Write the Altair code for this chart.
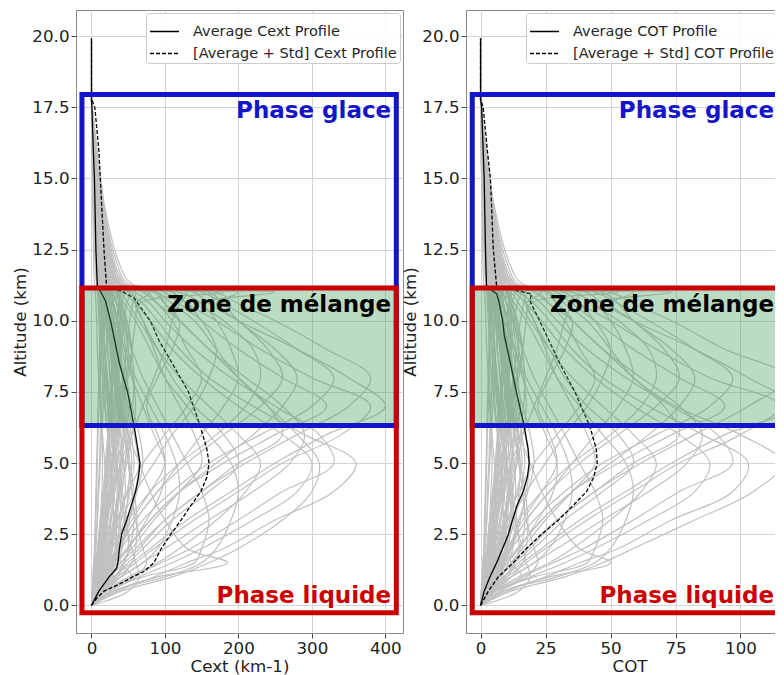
import altair as alt
import pandas as pd

# ---------------- data ----------------
ALT_LEVELS = [0, 0.5, 1, 1.5, 2, 3, 4, 5, 6, 7, 8, 9, 10, 10.6, 11.0, 11.3, 12, 13.5, 15.5, 17.8]

CEXT_PROFILES = [
    [0, 2, 5, 7, 9, 12, 14, 15, 14, 12, 10, 8, 7, 6, 5, 4, 3, 2, 1, 0],
    [0, 5, 10, 14, 17, 20, 22, 24, 22, 18, 15, 12, 10, 9, 8, 7, 6, 4, 2, 0],
    [0, 3, 8, 12, 16, 22, 28, 32, 30, 26, 22, 18, 15, 12, 10, 12, 10, 7, 3, 0],
    [0, 8, 18, 24, 28, 32, 35, 33, 28, 22, 18, 15, 12, 10, 14, 18, 14, 9, 4, 0],
    [0, 12, 25, 32, 36, 40, 38, 34, 30, 28, 25, 22, 20, 18, 16, 20, 16, 11, 5, 0],
    [0, 4, 9, 14, 18, 25, 32, 40, 45, 42, 36, 30, 24, 20, 30, 26, 20, 14, 7, 0],
    [0, 15, 35, 45, 50, 48, 42, 38, 35, 30, 28, 26, 22, 18, 15, 12, 8, 5, 2, 0],
    [0, 6, 14, 20, 26, 36, 48, 55, 50, 42, 35, 28, 22, 18, 15, 14, 11, 8, 3, 0],
    [0, 20, 55, 40, 35, 30, 28, 26, 24, 22, 20, 18, 16, 14, 12, 10, 8, 5, 2, 0],
    [0, 2, 4, 6, 8, 12, 16, 22, 30, 40, 50, 55, 48, 40, 35, 30, 24, 16, 8, 0],
    [0, 10, 22, 30, 38, 50, 62, 70, 65, 55, 45, 38, 30, 25, 20, 22, 17, 12, 5, 0],
    [0, 25, 60, 75, 70, 60, 55, 50, 45, 40, 35, 30, 25, 20, 18, 14, 10, 6, 2, 0],
    [0, 8, 20, 35, 50, 75, 95, 100, 85, 70, 55, 45, 35, 30, 25, 24, 18, 13, 6, 0],
    [0, 15, 40, 70, 90, 110, 120, 115, 100, 80, 60, 45, 35, 28, 22, 16, 12, 8, 3, 0],
    [0, 30, 90, 185, 130, 100, 80, 65, 50, 40, 30, 25, 20, 16, 12, 10, 7, 4, 2, 0],
    [0, 20, 70, 140, 150, 160, 150, 130, 110, 90, 70, 55, 42, 35, 28, 20, 14, 9, 3, 0],
    [0, 18, 50, 90, 120, 170, 210, 230, 200, 160, 120, 90, 65, 50, 40, 25, 18, 10, 4, 0],
    [0, 25, 65, 110, 150, 220, 280, 300, 260, 200, 150, 110, 80, 60, 45, 30, 20, 12, 4, 0],
    [0, 35, 85, 130, 180, 250, 330, 360, 290, 220, 160, 120, 90, 70, 50, 30, 20, 12, 4, 0],
    [0, 20, 55, 95, 135, 200, 260, 330, 310, 250, 190, 140, 100, 80, 60, 35, 25, 14, 5, 0],
    [0, 15, 40, 70, 100, 160, 220, 270, 290, 260, 210, 160, 120, 90, 70, 40, 25, 14, 5, 0],
    [0, 10, 30, 55, 80, 130, 190, 250, 320, 400, 350, 280, 200, 160, 140, 40, 28, 15, 5, 0],
    [0, 8, 22, 40, 60, 100, 150, 210, 280, 350, 380, 320, 250, 200, 170, 45, 30, 18, 6, 0],
    [0, 12, 35, 60, 85, 140, 200, 260, 340, 380, 300, 230, 170, 130, 110, 35, 25, 14, 5, 0],
    [0, 5, 15, 28, 40, 70, 110, 160, 230, 300, 330, 280, 220, 180, 150, 40, 28, 16, 5, 0],
    [0, 6, 18, 32, 48, 80, 120, 180, 250, 320, 260, 200, 150, 120, 100, 30, 22, 12, 4, 0],
    [0, 10, 25, 45, 65, 100, 150, 200, 260, 240, 200, 160, 120, 100, 90, 28, 20, 12, 4, 0],
    [0, 4, 12, 22, 35, 60, 90, 130, 180, 230, 260, 240, 200, 170, 200, 50, 35, 20, 6, 0],
    [0, 3, 10, 18, 28, 50, 80, 120, 170, 210, 230, 220, 180, 150, 250, 55, 38, 22, 8, 0],
    [0, 8, 20, 35, 50, 80, 120, 170, 220, 260, 280, 250, 200, 180, 160, 40, 28, 16, 5, 0],
    [0, 5, 14, 25, 38, 60, 90, 120, 150, 180, 200, 190, 170, 150, 120, 35, 25, 14, 5, 0],
    [0, 3, 8, 15, 22, 40, 60, 85, 110, 140, 160, 170, 150, 130, 110, 30, 22, 12, 4, 0],
    [0, 10, 25, 40, 55, 85, 120, 150, 140, 120, 100, 85, 70, 60, 55, 20, 15, 9, 3, 0],
    [0, 12, 30, 50, 70, 110, 160, 200, 180, 140, 110, 90, 70, 60, 80, 25, 18, 10, 4, 0],
    [0, 4, 10, 16, 22, 35, 50, 70, 100, 130, 150, 130, 110, 90, 75, 22, 16, 10, 3, 0],
    [0, 7, 16, 25, 35, 55, 80, 100, 90, 75, 90, 110, 120, 100, 85, 25, 18, 10, 4, 0],
    [0, 2, 6, 10, 14, 22, 30, 40, 55, 70, 85, 100, 110, 120, 130, 38, 26, 15, 5, 0],
    [0, 6, 12, 18, 24, 30, 36, 42, 40, 36, 32, 28, 24, 20, 17, 13, 10, 6, 2, 0],
    [0, 9, 20, 28, 34, 44, 52, 58, 54, 48, 42, 36, 30, 26, 22, 16, 12, 8, 3, 0],
    [0, 3, 7, 11, 15, 18, 20, 22, 26, 30, 34, 38, 40, 34, 28, 20, 15, 9, 3, 0],
    [0, 50, 65, 60, 55, 45, 40, 35, 30, 25, 20, 18, 15, 12, 10, 8, 6, 4, 2, 0],
    [0, 30, 100, 150, 170, 190, 200, 190, 160, 130, 100, 80, 60, 45, 35, 22, 16, 10, 3, 0],
    [0, 40, 110, 160, 200, 260, 300, 310, 280, 240, 200, 170, 140, 110, 90, 30, 22, 12, 4, 0],
    [0, 4, 8, 12, 16, 20, 24, 28, 34, 40, 48, 55, 60, 65, 180, 45, 30, 18, 6, 0],
    [0, 1, 3, 4, 5, 6, 7, 8, 9, 10, 11, 12, 13, 14, 16, 18, 16, 12, 6, 0],
    [0, 2, 5, 8, 11, 16, 20, 18, 15, 13, 12, 14, 16, 15, 13, 11, 9, 6, 3, 0],
    [0, 4, 6, 9, 12, 14, 17, 20, 24, 28, 26, 22, 19, 16, 14, 9, 7, 4, 1, 0],
    [0, 7, 15, 22, 28, 34, 30, 26, 22, 19, 17, 15, 13, 11, 9, 7, 5, 3, 1, 0],
    [0, 1, 2, 3, 5, 8, 10, 12, 14, 16, 18, 20, 24, 28, 36, 30, 24, 16, 8, 0],
    [0, 3, 6, 10, 13, 17, 24, 30, 36, 34, 30, 26, 34, 40, 45, 35, 28, 20, 10, 0],
    [0, 1, 2, 3, 4, 5, 6, 7, 8, 9, 10, 11, 12, 13, 14, 12, 10, 7, 3, 0],
    [0, 3, 6, 9, 12, 15, 18, 21, 24, 22, 20, 18, 16, 14, 12, 10, 8, 5, 2, 0],
    [0, 6, 12, 16, 19, 22, 26, 30, 27, 24, 21, 18, 15, 13, 11, 9, 7, 5, 2, 0],
    [0, 2, 4, 7, 10, 15, 21, 27, 33, 38, 42, 40, 35, 30, 26, 20, 15, 10, 4, 0],
    [0, 9, 18, 26, 32, 40, 46, 44, 40, 36, 32, 28, 25, 22, 20, 16, 12, 8, 3, 0],
    [0, 14, 28, 36, 42, 46, 50, 52, 48, 44, 38, 34, 30, 26, 24, 20, 15, 10, 4, 0],
    [0, 5, 10, 13, 15, 18, 21, 24, 28, 32, 36, 40, 44, 48, 52, 40, 30, 18, 7, 0],
    [0, 11, 20, 25, 29, 33, 37, 40, 43, 40, 36, 32, 28, 24, 20, 15, 12, 8, 3, 0],
    [0, 4, 9, 15, 21, 30, 38, 45, 52, 56, 58, 54, 48, 42, 38, 28, 20, 12, 5, 0],
    [0, 7, 13, 18, 22, 27, 31, 35, 38, 41, 44, 46, 42, 38, 34, 26, 20, 13, 5, 0],
    [0, 2, 3, 5, 6, 8, 9, 11, 12, 14, 15, 17, 18, 20, 22, 24, 20, 14, 6, 0],
    [0, 16, 32, 44, 52, 58, 55, 50, 44, 38, 32, 27, 22, 18, 15, 12, 9, 6, 2, 0],
    [0, 3, 7, 10, 14, 20, 27, 35, 44, 52, 48, 42, 36, 30, 26, 20, 15, 10, 4, 0],
    [0, 8, 16, 22, 26, 30, 28, 26, 24, 26, 30, 34, 38, 34, 30, 24, 18, 12, 5, 0],
    [0, 1, 3, 5, 8, 12, 18, 25, 32, 38, 44, 48, 52, 56, 60, 45, 32, 20, 8, 0],
    [0, 10, 22, 32, 40, 52, 60, 64, 58, 50, 42, 36, 30, 26, 22, 17, 13, 8, 3, 0],
    [0, 5, 11, 16, 20, 26, 30, 33, 35, 36, 35, 32, 28, 25, 22, 18, 14, 9, 4, 0],
    [0, 2, 5, 8, 12, 18, 24, 30, 36, 42, 47, 50, 46, 40, 34, 26, 20, 13, 5, 0],
    [0, 12, 22, 28, 32, 35, 38, 40, 38, 34, 30, 26, 23, 20, 18, 14, 11, 7, 3, 0],
    [0, 6, 11, 15, 18, 22, 25, 28, 31, 34, 37, 39, 40, 38, 36, 28, 22, 14, 6, 0],
    [0, 18, 40, 55, 60, 62, 58, 52, 46, 40, 34, 29, 25, 21, 18, 14, 10, 6, 2, 0],
    [0, 3, 5, 8, 10, 13, 16, 19, 22, 25, 28, 31, 34, 37, 40, 32, 25, 16, 7, 0],
    [0, 8, 15, 20, 25, 32, 40, 48, 55, 60, 56, 50, 44, 38, 33, 25, 18, 11, 4, 0],
    [0, 4, 8, 11, 14, 17, 19, 21, 23, 25, 27, 29, 31, 30, 28, 22, 17, 11, 5, 0],
    [0, 13, 24, 30, 34, 38, 42, 46, 50, 46, 42, 38, 34, 30, 27, 21, 16, 10, 4, 0],
]

COT_PROFILES = [
    [0, 0.6, 1.5, 2, 2.6, 3.5, 4, 4.4, 4, 3.5, 3, 2.4, 2, 1.8, 1.5, 1.2, 0.9, 0.6, 0.3, 0],
    [0, 1.5, 3, 4, 5, 6, 6.5, 7, 6.5, 5.3, 4.4, 3.5, 3, 2.6, 2.4, 2, 1.8, 1.2, 0.6, 0],
    [0, 0.9, 2.4, 3.5, 4.7, 6.5, 8.2, 9.4, 8.8, 7.6, 6.5, 5.3, 4.4, 3.5, 3, 3.5, 3, 2, 0.9, 0],
    [0, 2.4, 5.3, 7, 8.2, 9.4, 10.3, 9.7, 8.2, 6.5, 5.3, 4.4, 3.5, 3, 4, 5.3, 4, 2.6, 1.2, 0],
    [0, 3.5, 7.4, 9.4, 10.6, 11.8, 11.2, 10, 8.8, 8.2, 7.4, 6.5, 5.9, 5.3, 4.7, 5.9, 4.7, 3.2, 1.5, 0],
    [0, 1.2, 2.6, 4, 5.3, 7.4, 9.4, 11.8, 13.2, 12.4, 10.6, 8.8, 7, 5.9, 8.8, 7.6, 5.9, 4, 2, 0],
    [0, 4.4, 10.3, 13.2, 14.7, 14, 12.4, 11.2, 10.3, 8.8, 8.2, 7.6, 6.5, 5.3, 4.4, 3.5, 2.4, 1.5, 0.6, 0],
    [0, 1.8, 4, 5.9, 7.6, 10.6, 14, 16, 14.7, 12.4, 10.3, 8.2, 6.5, 5.3, 4.4, 4, 3.2, 2.4, 0.9, 0],
    [0, 5.9, 16, 11.8, 10.3, 8.8, 8.2, 7.6, 7, 6.5, 5.9, 5.3, 4.7, 4, 3.5, 3, 2.4, 1.5, 0.6, 0],
    [0, 0.6, 1.2, 1.8, 2.4, 3.5, 4.7, 6.5, 8.8, 11.8, 14.7, 16.2, 14, 11.8, 10.3, 8.8, 7, 4.7, 2.4, 0],
    [0, 3, 6.5, 8.8, 11.2, 14.7, 18.2, 20.6, 19.1, 16.2, 13.2, 11.2, 8.8, 7.4, 5.9, 6.5, 5, 3.5, 1.5, 0],
    [0, 7.4, 17.6, 22, 20.6, 17.6, 16.2, 14.7, 13.2, 11.8, 10.3, 8.8, 7.4, 5.9, 5.3, 4, 3, 1.8, 0.6, 0],
    [0, 2.4, 5.9, 10.3, 14.7, 22, 28, 29.4, 25, 20.6, 16.2, 13.2, 10.3, 8.8, 7.4, 7, 5.3, 3.8, 1.8, 0],
    [0, 4.4, 11.8, 20.6, 26.5, 32.4, 35.3, 33.8, 29.4, 23.5, 17.6, 13.2, 10.3, 8.2, 6.5, 4.7, 3.5, 2.4, 0.9, 0],
    [0, 8.8, 26.5, 50, 38, 29.4, 23.5, 19.1, 14.7, 11.8, 8.8, 7.4, 5.9, 4.7, 3.5, 3, 2, 1.2, 0.6, 0],
    [0, 5.9, 20.6, 41, 44, 47, 44, 38, 32.4, 26.5, 20.6, 16.2, 12.4, 10.3, 8.2, 5.9, 4, 2.6, 0.9, 0],
    [0, 5.3, 14.7, 26.5, 35.3, 50, 61.8, 67.6, 58.8, 47, 35.3, 26.5, 19.1, 14.7, 11.8, 7.4, 5.3, 3, 1.2, 0],
    [0, 7.4, 19.1, 32.4, 44, 64.7, 82.4, 88.2, 76.5, 58.8, 44, 32.4, 23.5, 17.6, 13.2, 8.8, 5.9, 3.5, 1.2, 0],
    [0, 10.3, 25, 38.2, 53, 73.5, 97, 103, 85.3, 64.7, 47, 35.3, 26.5, 20.6, 14.7, 8.8, 5.9, 3.5, 1.2, 0],
    [0, 5.9, 16.2, 28, 39.7, 58.8, 76.5, 97, 91, 73.5, 55.9, 41, 29.4, 23.5, 17.6, 10.3, 7.4, 4, 1.5, 0],
    [0, 4.4, 11.8, 20.6, 29.4, 47, 64.7, 79.4, 85.3, 76.5, 61.8, 47, 35.3, 26.5, 20.6, 11.8, 7.4, 4, 1.5, 0],
    [0, 3, 8.8, 16.2, 23.5, 38.2, 55.9, 73.5, 94, 120, 103, 82.4, 58.8, 47, 41, 11.8, 8.2, 4.4, 1.5, 0],
    [0, 2.4, 6.5, 11.8, 17.6, 29.4, 44, 61.8, 82.4, 103, 118, 94, 73.5, 58.8, 50, 13.2, 8.8, 5.3, 1.8, 0],
    [0, 3.5, 10.3, 17.6, 25, 41, 58.8, 76.5, 100, 115, 88.2, 67.6, 50, 38.2, 32.4, 10.3, 7.4, 4, 1.5, 0],
    [0, 1.5, 4.4, 8.2, 11.8, 20.6, 32.4, 47, 67.6, 88.2, 97, 82.4, 64.7, 53, 44, 11.8, 8.2, 4.7, 1.5, 0],
    [0, 1.8, 5.3, 9.4, 14.1, 23.5, 35.3, 53, 73.5, 94, 76.5, 58.8, 44, 35.3, 29.4, 8.8, 6.5, 3.5, 1.2, 0],
    [0, 3, 7.4, 13.2, 19.1, 29.4, 44, 58.8, 76.5, 70.6, 58.8, 47, 35.3, 29.4, 26.5, 8.2, 5.9, 3.5, 1.2, 0],
    [0, 1.2, 3.5, 6.5, 10.3, 17.6, 26.5, 38.2, 53, 67.6, 76.5, 70.6, 58.8, 50, 58.8, 14.7, 10.3, 5.9, 1.8, 0],
    [0, 0.9, 3, 5.3, 8.2, 14.7, 23.5, 35.3, 50, 61.8, 67.6, 64.7, 53, 44, 73.5, 16.2, 11.2, 6.5, 2.4, 0],
    [0, 2.4, 5.9, 10.3, 14.7, 23.5, 35.3, 50, 64.7, 76.5, 82.4, 73.5, 58.8, 53, 47, 11.8, 8.2, 4.7, 1.5, 0],
    [0, 1.5, 4.1, 7.4, 11.2, 17.6, 26.5, 35.3, 44, 53, 58.8, 55.9, 50, 44, 35.3, 10.3, 7.4, 4.1, 1.5, 0],
    [0, 0.9, 2.4, 4.4, 6.5, 11.8, 17.6, 25, 32.4, 41, 47, 50, 44, 38.2, 32.4, 8.8, 6.5, 3.5, 1.2, 0],
    [0, 3, 7.4, 11.8, 16.2, 25, 35.3, 44, 41, 35.3, 29.4, 25, 20.6, 17.6, 16.2, 5.9, 4.4, 2.6, 0.9, 0],
    [0, 3.5, 8.8, 14.7, 20.6, 32.4, 47, 58.8, 53, 41, 32.4, 26.5, 20.6, 17.6, 23.5, 7.4, 5.3, 3, 1.2, 0],
    [0, 1.2, 3, 4.7, 6.5, 10.3, 14.7, 20.6, 29.4, 38.2, 44, 38.2, 32.4, 26.5, 22, 6.5, 4.7, 3, 0.9, 0],
    [0, 2, 4.7, 7.4, 10.3, 16.2, 23.5, 29.4, 26.5, 22, 26.5, 32.4, 35.3, 29.4, 25, 7.4, 5.3, 3, 1.2, 0],
    [0, 0.6, 1.8, 3, 4.1, 6.5, 8.8, 11.8, 16.2, 20.6, 25, 29.4, 32.4, 35.3, 38.2, 11.2, 7.6, 4.4, 1.5, 0],
    [0, 1.8, 3.5, 5.3, 7, 8.8, 10.6, 12.4, 11.8, 10.6, 9.4, 8.2, 7, 5.9, 5, 3.8, 3, 1.8, 0.6, 0],
    [0, 2.6, 5.9, 8.2, 10, 13, 15.3, 17, 15.9, 14.1, 12.4, 10.6, 8.8, 7.6, 6.5, 4.7, 3.5, 2.4, 0.9, 0],
    [0, 0.9, 2, 3.2, 4.4, 5.3, 5.9, 6.5, 7.6, 8.8, 10, 11.2, 11.8, 10, 8.2, 5.9, 4.4, 2.6, 0.9, 0],
    [0, 14.7, 19.1, 17.6, 16.2, 13.2, 11.8, 10.3, 8.8, 7.4, 5.9, 5.3, 4.4, 3.5, 3, 2.4, 1.8, 1.2, 0.6, 0],
    [0, 8.8, 29.4, 44, 50, 55.9, 58.8, 55.9, 47, 38.2, 29.4, 23.5, 17.6, 13.2, 10.3, 6.5, 4.7, 3, 0.9, 0],
    [0, 11.8, 32.4, 47, 58.8, 82.4, 105, 116, 100, 75, 58.8, 50, 41, 32.4, 26.5, 8.8, 6.5, 3.5, 1.2, 0],
    [0, 1.2, 2.4, 3.5, 4.7, 5.9, 7, 8.2, 10, 11.8, 14.1, 16.2, 17.6, 19.1, 53, 13.2, 8.8, 5.3, 1.8, 0],
    [0, 0.3, 0.9, 1.2, 1.5, 1.8, 2, 2.4, 2.6, 3, 3.2, 3.5, 3.8, 4.1, 4.7, 5.3, 4.7, 3.5, 1.8, 0],
    [0, 0.6, 1.5, 2.4, 3.2, 4.7, 5.9, 5.3, 4.4, 3.8, 3.5, 4.1, 4.7, 4.4, 3.8, 3.2, 2.6, 1.8, 0.9, 0],
    [0, 1.2, 1.8, 2.6, 3.5, 4.1, 5, 5.9, 7, 8.2, 7.6, 6.5, 5.6, 4.7, 4.1, 2.6, 2, 1.2, 0.3, 0],
    [0, 2, 4.4, 6.5, 8.2, 10, 8.8, 7.6, 6.5, 5.6, 5, 4.4, 3.8, 3.2, 2.6, 2, 1.5, 0.9, 0.3, 0],
    [0, 0.3, 0.6, 0.9, 1.5, 2.4, 3, 3.5, 4.1, 4.7, 5.3, 5.9, 7, 8.2, 10.6, 8.8, 7, 4.7, 2.4, 0],
    [0, 0.9, 1.8, 3, 3.8, 5, 7, 8.8, 10.6, 10, 8.8, 7.6, 10, 11.8, 13.2, 10.3, 8.2, 5.9, 2.9, 0],
    [0, 0.3, 0.6, 0.9, 1.2, 1.5, 1.8, 2.1, 2.4, 2.6, 2.9, 3.2, 3.5, 3.8, 4.1, 3.5, 2.9, 2.1, 0.9, 0],
    [0, 0.9, 1.8, 2.6, 3.5, 4.4, 5.3, 6.2, 7, 6.5, 5.9, 5.3, 4.7, 4.1, 3.5, 2.9, 2.4, 1.5, 0.6, 0],
    [0, 1.8, 3.5, 4.7, 5.6, 6.5, 7.6, 8.8, 7.9, 7, 6.2, 5.3, 4.4, 3.8, 3.2, 2.6, 2.1, 1.5, 0.6, 0],
    [0, 0.6, 1.2, 2.1, 2.9, 4.4, 6.2, 7.9, 9.7, 11.2, 12.4, 11.8, 10.3, 8.8, 7.6, 5.9, 4.4, 2.9, 1.2, 0],
    [0, 2.6, 5.3, 7.6, 9.4, 11.8, 13.5, 12.9, 11.8, 10.6, 9.4, 8.2, 7.4, 6.5, 5.9, 4.7, 3.5, 2.4, 0.9, 0],
    [0, 4.1, 8.2, 10.6, 12.4, 13.5, 14.7, 15.3, 14.1, 12.9, 11.2, 10, 8.8, 7.6, 7, 5.9, 4.4, 2.9, 1.2, 0],
    [0, 1.5, 2.9, 3.8, 4.4, 5.3, 6.2, 7, 8.2, 9.4, 10.6, 11.8, 12.9, 14.1, 15.3, 11.8, 8.8, 5.3, 2.1, 0],
    [0, 3.2, 5.9, 7.4, 8.5, 9.7, 10.9, 11.8, 12.6, 11.8, 10.6, 9.4, 8.2, 7, 5.9, 4.4, 3.5, 2.4, 0.9, 0],
    [0, 1.2, 2.6, 4.4, 6.2, 8.8, 11.2, 13.2, 15.3, 16.5, 17.1, 15.9, 14.1, 12.4, 11.2, 8.2, 5.9, 3.5, 1.5, 0],
    [0, 2.1, 3.8, 5.3, 6.5, 7.9, 9.1, 10.3, 11.2, 12.1, 12.9, 13.5, 12.4, 11.2, 10, 7.6, 5.9, 3.8, 1.5, 0],
    [0, 0.6, 0.9, 1.5, 1.8, 2.4, 2.6, 3.2, 3.5, 4.1, 4.4, 5, 5.3, 5.9, 6.5, 7, 5.9, 4.1, 1.8, 0],
    [0, 4.7, 9.4, 12.9, 15.3, 17.1, 16.2, 14.7, 12.9, 11.2, 9.4, 7.9, 6.5, 5.3, 4.4, 3.5, 2.6, 1.8, 0.6, 0],
    [0, 0.9, 2.1, 2.9, 4.1, 5.9, 7.9, 10.3, 12.9, 15.3, 14.1, 12.4, 10.6, 8.8, 7.6, 5.9, 4.4, 2.9, 1.2, 0],
    [0, 2.4, 4.7, 6.5, 7.6, 8.8, 8.2, 7.6, 7, 7.6, 8.8, 10, 11.2, 10, 8.8, 7, 5.3, 3.5, 1.5, 0],
    [0, 0.3, 0.9, 1.5, 2.4, 3.5, 5.3, 7.4, 9.4, 11.2, 12.9, 14.1, 15.3, 16.5, 17.6, 13.2, 9.4, 5.9, 2.4, 0],
    [0, 2.9, 6.5, 9.4, 11.8, 15.3, 17.6, 18.8, 17.1, 14.7, 12.4, 10.6, 8.8, 7.6, 6.5, 5, 3.8, 2.4, 0.9, 0],
    [0, 1.5, 3.2, 4.7, 5.9, 7.6, 8.8, 9.7, 10.3, 10.6, 10.3, 9.4, 8.2, 7.4, 6.5, 5.3, 4.1, 2.6, 1.2, 0],
    [0, 0.6, 1.5, 2.4, 3.5, 5.3, 7, 8.8, 10.6, 12.4, 13.8, 14.7, 13.5, 11.8, 10, 7.6, 5.9, 3.8, 1.5, 0],
    [0, 3.5, 6.5, 8.2, 9.4, 10.3, 11.2, 11.8, 11.2, 10, 8.8, 7.6, 6.8, 5.9, 5.3, 4.1, 3.2, 2.1, 0.9, 0],
    [0, 1.8, 3.2, 4.4, 5.3, 6.5, 7.4, 8.2, 9.1, 10, 10.9, 11.5, 11.8, 11.2, 10.6, 8.2, 6.5, 4.1, 1.8, 0],
    [0, 5.3, 11.8, 16.2, 17.6, 18.2, 17.1, 15.3, 13.5, 11.8, 10, 8.5, 7.4, 6.2, 5.3, 4.1, 2.9, 1.8, 0.6, 0],
    [0, 0.9, 1.5, 2.4, 2.9, 3.8, 4.7, 5.6, 6.5, 7.4, 8.2, 9.1, 10, 10.9, 11.8, 9.4, 7.4, 4.7, 2.1, 0],
    [0, 2.4, 4.4, 5.9, 7.4, 9.4, 11.8, 14.1, 16.2, 17.6, 16.5, 14.7, 12.9, 11.2, 9.7, 7.4, 5.3, 3.2, 1.2, 0],
    [0, 1.2, 2.4, 3.2, 4.1, 5, 5.6, 6.2, 6.8, 7.4, 7.9, 8.5, 9.1, 8.8, 8.2, 6.5, 5, 3.2, 1.5, 0],
    [0, 3.8, 7, 8.8, 10, 11.2, 12.4, 13.5, 14.7, 13.5, 12.4, 11.2, 10, 8.8, 7.9, 6.2, 4.7, 2.9, 1.2, 0],
]

CEXT_MEAN_ALT = [0, 0.5, 1.0, 1.3, 1.5, 2, 2.5, 3, 3.5, 4, 4.5, 5, 5.5, 6.3, 7.5, 8.5, 9.5, 10, 10.7, 11.0, 11.2, 12.5, 15, 16, 17.5, 17.8, 19.93]
CEXT_MEAN = [0, 10, 24, 34, 36, 38, 41, 48, 54, 60, 64, 66, 63, 58, 49, 38, 30, 26, 19, 13, 8, 6, 4, 2.5, 0.5, 0, 0]
CEXT_STD_ALT = [0, 0.25, 0.5, 0.75, 1.0, 1.2, 1.5, 2, 2.5, 3, 3.5, 4, 4.5, 5, 5.5, 6.3, 7.5, 8.5, 9.3, 10, 10.8, 11.05, 11.2, 12.5, 14, 15, 16, 17.5, 17.8, 19.93]
CEXT_MEAN_STD = [0, 7, 17, 38, 56, 72, 85, 95, 108, 122, 135, 149, 157, 160, 157, 148, 132, 110, 92, 80, 58, 40, 20.5, 17, 14, 12, 10, 4.5, 0, 0]

COT_MEAN_ALT = [0, 0.5, 1, 1.5, 2, 2.5, 3, 3.5, 4, 4.5, 5, 5.5, 6.3, 7.5, 8.5, 9.5, 10, 10.7, 10.95, 11.2, 12.5, 15, 16, 17.5, 17.8, 19.93]
COT_MEAN = [0, 1.4, 3.6, 6.2, 8.5, 10.7, 12.3, 14, 16.4, 18, 18.7, 18.3, 16.8, 13.8, 11.5, 9.1, 8.5, 7, 6.2, 2.3, 1.9, 1.4, 1.0, 0.4, 0, 0]
COT_STD_ALT = [0, 0.5, 1, 1.5, 2, 2.5, 3, 3.5, 4, 4.5, 5, 5.5, 6.3, 7.5, 8.5, 9.6, 10.7, 10.95, 11.2, 12.5, 15, 16, 17.5, 17.8, 19.93]
COT_MEAN_STD = [0, 3, 6.8, 12.6, 17.7, 23.5, 30, 35.5, 40.8, 43.5, 44.9, 44.5, 42, 36.3, 30.5, 24.8, 19, 19.6, 6.2, 4.9, 3.8, 2.6, 1.0, 0, 0]

CEXT_SERIES = ["Average Cext Profile", "[Average + Std] Cext Profile"]
COT_SERIES = ["Average COT Profile", "[Average + Std] COT Profile"]

ZONE_NAMES = ["Phase glace", "Zone de mélange", "Phase liquide"]
ZONE_LABEL_ALT = [17.13, 10.3, 0.08]
GLACE_ALT = [6.32, 17.95]
LIQUIDE_ALT = [-0.26, 11.15]
MELANGE_ALT = [6.32, 11.15]
CEXT_BOX_X = [-13, 415]
COT_BOX_X = [-3.2, 117.6]
CEXT_LABEL_X = 408
COT_LABEL_X = 112.9

Y_DOMAIN = [-0.97, 20.92]
CEXT_X_DOMAIN = [-21.1, 424.1]
COT_X_DOMAIN = [-5.6, 120.2]
CEXT_TICKS = [0, 100, 200, 300, 400]
COT_TICKS = [0, 25, 50, 75, 100]
Y_TICKS = [0, 2.5, 5, 7.5, 10, 12.5, 15, 17.5, 20]

# ---------------- style ----------------
GRAY = "#c0c0c0"
BLUE = "#1414c8"
RED = "#cc0000"
GREEN = "#3a9a50"
SPINE = "#8a8a8a"
FONT = "DejaVu Sans"
WIDTH = 327
HEIGHT = 623


def make_legend(right):
    common = dict(
        title=None, symbolType="stroke", symbolSize=841, symbolStrokeWidth=1.3,
        symbolStrokeColor="black", labelFontSize=14.5, labelFont=FONT,
        labelColor="#262626", labelOffset=13, padding=3, rowPadding=-4,
        fillColor="rgba(255,255,255,0.85)", strokeColor="#cccccc",
        cornerRadius=3, labelLimit=400,
    )
    if right:
        # the window cuts this panel; keep the legend text inside it
        return alt.Legend(orient="none", legendX=60, legendY=3, **common)
    return alt.Legend(orient="top-right", offset=3, **common)


def panel(profiles, m_alt, m_val, s_alt, s_val, names, xdom, xticks, xtitle,
          box_x, label_x, right):
    gray_df = pd.DataFrame(
        [{"pid": k, "alt": a, "val": v}
         for k, prof in enumerate(profiles) for a, v in zip(ALT_LEVELS, prof)]
    )
    mean_df = pd.DataFrame(
        [{"series": names[0], "alt": a, "val": v} for a, v in zip(m_alt, m_val)]
        + [{"series": names[1], "alt": a, "val": v} for a, v in zip(s_alt, s_val)]
    )
    xs = alt.Scale(domain=xdom, nice=False, zero=False)
    ys = alt.Scale(domain=Y_DOMAIN, nice=False, zero=False)
    xaxis = alt.Axis(values=xticks, title=xtitle, format="d", grid=True)
    yaxis = alt.Axis(values=Y_TICKS, title="Altitude (km)", format=".1f", grid=True)

    def X(field):
        return alt.X(field, scale=xs, axis=xaxis, title=xtitle)

    def Y(field):
        return alt.Y(field, scale=ys, axis=yaxis, title="Altitude (km)")

    gray = alt.Chart(gray_df).mark_line(
        color=GRAY, strokeWidth=1.2, interpolate="catmull-rom", clip=True
    ).encode(x=X("val:Q"), y=Y("alt:Q"), detail="pid:N", order="alt:Q")

    means = alt.Chart(mean_df).mark_line(color="black", strokeWidth=1.3, clip=True).encode(
        x=X("val:Q"),
        y=Y("alt:Q"),
        order="alt:Q",
        strokeDash=alt.StrokeDash(
            "series:N",
            scale=alt.Scale(domain=names, range=[[1, 0], [4, 2]]),
            legend=make_legend(right),
        ),
    )

    def box(alts):
        return pd.DataFrame([{"x": box_x[0], "x2": box_x[1], "y": alts[0], "y2": alts[1]}])

    green = alt.Chart(box(MELANGE_ALT)).mark_rect(
        color=GREEN, opacity=0.35, clip=True
    ).encode(x=X("x:Q"), x2="x2:Q", y=Y("y:Q"), y2="y2:Q")

    blue = alt.Chart(box(GLACE_ALT)).mark_rect(
        filled=False, color=BLUE, strokeWidth=5, strokeJoin="miter", clip=True
    ).encode(x=X("x:Q"), x2="x2:Q", y=Y("y:Q"), y2="y2:Q")

    red = alt.Chart(box(LIQUIDE_ALT)).mark_rect(
        filled=False, color=RED, strokeWidth=5, strokeJoin="miter", clip=True
    ).encode(x=X("x:Q"), x2="x2:Q", y=Y("y:Q"), y2="y2:Q")

    text_df = pd.DataFrame({
        "x": [label_x] * 3, "y": ZONE_LABEL_ALT, "t": ZONE_NAMES,
        "c": [BLUE, "black", RED],
    })
    texts = alt.Chart(text_df).mark_text(
        align="right", baseline="alphabetic", font=FONT, fontWeight="bold", fontSize=23
    ).encode(x=X("x:Q"), y=Y("y:Q"), text="t:N", color=alt.Color("c:N", scale=None))

    return alt.layer(gray, means, green, blue, red, texts).properties(
        width=WIDTH, height=HEIGHT
    )


left = panel(CEXT_PROFILES, CEXT_MEAN_ALT, CEXT_MEAN, CEXT_STD_ALT, CEXT_MEAN_STD,
             CEXT_SERIES, CEXT_X_DOMAIN, CEXT_TICKS, "Cext (km-1)",
             CEXT_BOX_X, CEXT_LABEL_X, False)
right = panel(COT_PROFILES, COT_MEAN_ALT, COT_MEAN, COT_STD_ALT, COT_MEAN_STD,
              COT_SERIES, COT_X_DOMAIN, COT_TICKS, "COT",
              COT_BOX_X, COT_LABEL_X, True)

# The right panel runs past the window edge, as in the reference: a negative
# right padding crops it there instead of shrinking the whole figure.
chart = alt.hconcat(left, right, spacing=-2).resolve_scale(
    x="independent", y="independent", strokeDash="independent"
).resolve_legend(strokeDash="independent").properties(
    padding={"left": 4, "top": 1, "right": -19, "bottom": 0}
).configure_view(
    stroke=SPINE, strokeWidth=1
).configure_axis(
    labelFont=FONT, titleFont=FONT, labelFontSize=16.7, titleFontSize=16.7,
    titleFontWeight="normal", labelColor="#222222", titleColor="#222222",
    tickSize=5, tickColor="#444444", labelPadding=2, titlePadding=2,
    domainColor=SPINE, gridColor="#d4d4d4", gridWidth=1,
)

chart.save("out.html", embed_options={"renderer": "svg", "actions": False})
